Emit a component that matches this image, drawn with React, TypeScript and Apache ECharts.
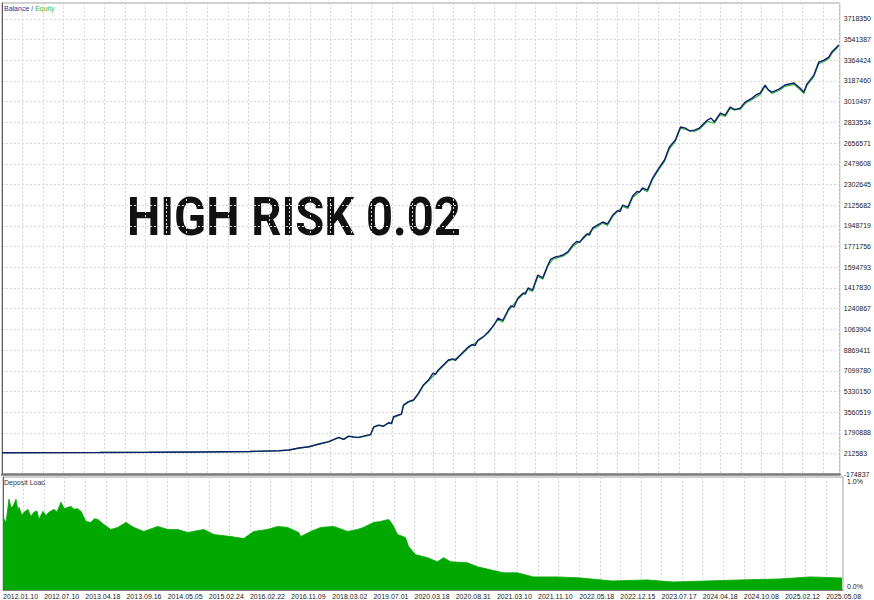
import React, { useEffect, useRef } from "react";
import * as echarts from "echarts";

const X_LABELS = [
  "2012.01.10", "2012.07.10", "2013.04.18", "2013.09.16", "2014.05.05", "2015.02.24",
  "2016.02.22", "2016.11.09", "2018.03.02", "2019.07.01", "2020.03.18", "2020.08.31",
  "2021.03.10", "2021.11.10", "2022.05.18", "2022.12.15", "2023.07.17", "2024.04.18",
  "2024.10.08", "2025.02.12", "2025.05.08",
];

const Y_LABELS = [
  "-174837", "212583", "1790888", "3560519", "5330150", "7099780", "8869411", "1063904",
  "1240867", "1417830", "1594793", "1771756", "1948719", "2125682", "2302645", "2479608",
  "2656571", "2833534", "3010497", "3187460", "3364424", "3541387", "3718350",
];

const Y_MIN = -174837;
const Y_STEP = 176963;
const Y_MAX = 3854258;
const X_MAX = 4082;
const X_LABEL_STEP = 200;

const BAL_DEALS = [
  0, 476, 718, 961, 1204, 1349, 1398, 1447, 1495, 1544,
  1592, 1641, 1665, 1689, 1713, 1738, 1762, 1786, 1796, 1811,
  1835, 1859, 1883, 1898, 1908, 1932, 1946, 1956, 1980, 2005,
  2029, 2053, 2078, 2100, 2112, 2126, 2175, 2195, 2210, 2223,
  2272, 2290, 2305, 2320, 2345, 2369, 2390, 2400, 2417, 2440,
  2466, 2480, 2495, 2514, 2540, 2550, 2563, 2585, 2611, 2635,
  2660, 2672, 2684, 2700, 2715, 2733, 2757, 2781, 2800, 2815,
  2830, 2850, 2862, 2878, 2927, 2950, 2976, 3000, 3012, 3024,
  3050, 3073, 3095, 3105, 3121, 3145, 3170, 3185, 3204, 3228,
  3252, 3265, 3281, 3306, 3330, 3350, 3374, 3398, 3437, 3455,
  3471, 3500, 3524, 3548, 3570, 3597, 3621, 3655, 3675, 3694,
  3718, 3735, 3752, 3786, 3815, 3859, 3888, 3907, 3922, 3956,
  3980, 4005, 4029, 4043, 4068, 4077,
];

const BALANCE = [
  10000, 12000, 13500, 16000, 20000, 27000, 33000, 50000, 61000, 84000,
  104000, 141000, 124000, 152000, 144000, 141000, 152000, 161000, 165000, 230000,
  246000, 238000, 266000, 260000, 317000, 332000, 340000, 417000, 446000, 460000,
  517000, 588000, 631000, 690000, 680000, 717000, 802000, 812000, 800000, 828000,
  913000, 935000, 925000, 973000, 1000000, 1042000, 1085000, 1110000, 1161000, 1140000,
  1230000, 1265000, 1255000, 1332000, 1375000, 1365000, 1418000, 1400000, 1529000, 1505000,
  1614000, 1660000, 1674000, 1685000, 1690000, 1700000, 1726000, 1785000, 1815000, 1808000,
  1845000, 1880000, 1870000, 1931000, 1982000, 1965000, 2042000, 2080000, 2072000, 2127000,
  2110000, 2204000, 2245000, 2235000, 2273000, 2255000, 2358000, 2400000, 2452000, 2512000,
  2623000, 2650000, 2683000, 2794000, 2785000, 2760000, 2768000, 2785000, 2854000, 2870000,
  2837000, 2913000, 2896000, 2965000, 2940000, 2956000, 3007000, 3041000, 3070000, 3084000,
  3153000, 3110000, 3093000, 3118000, 3153000, 3170000, 3127000, 3093000, 3161000, 3238000,
  3349000, 3366000, 3392000, 3435000, 3478000, 3495000,
];

const EQ_DEALS = [
  0, 476, 718, 961, 1204, 1349, 1398, 1447, 1495, 1544,
  1592, 1641, 1665, 1689, 1713, 1738, 1762, 1786, 1796, 1811,
  1835, 1859, 1883, 1898, 1908, 1932, 1946, 1956, 1980, 2005,
  2029, 2053, 2078, 2126, 2175, 2223, 2272, 2320, 2369, 2417, 2440,
  2466, 2514, 2563, 2585, 2611, 2635, 2660, 2684, 2733, 2757, 2781, 2830,
  2878, 2927, 2950, 2976, 3024, 3050, 3073, 3121, 3145, 3170, 3204, 3228, 3252,
  3281, 3306, 3330, 3374, 3398, 3437, 3471, 3500, 3524, 3548,
  3597, 3621, 3655, 3694, 3718, 3752, 3786, 3815, 3859, 3888,
  3907, 3922, 3956, 3980, 4005, 4029, 4043, 4068, 4077,
];

const EQUITY = [
  10000, 12000, 13400, 15900, 19800, 26500, 32500, 49000, 60000, 82000,
  102000, 138000, 122000, 149000, 142000, 139000, 150000, 158000, 163000, 226000,
  243000, 234000, 262000, 257000, 312000, 328000, 336000, 410000, 441000, 455000,
  511000, 582000, 625000, 710000, 795000, 820000, 905000, 966000, 1033000, 1150000, 1128000,
  1220000, 1322000, 1405000, 1388000, 1517000, 1492000, 1605000, 1664000, 1690000, 1717000, 1772000, 1834000,
  1920000, 1972000, 1952000, 2030000, 2115000, 2098000, 2192000, 2262000, 2240000, 2345000, 2440000, 2500000, 2608000,
  2672000, 2784000, 2773000, 2756000, 2775000, 2842000, 2826000, 2902000, 2884000, 2952000,
  2944000, 2995000, 3030000, 3072000, 3140000, 3080000, 3106000, 3142000, 3158000, 3115000,
  3080000, 3150000, 3225000, 3336000, 3355000, 3380000, 3422000, 3466000, 3495000,
];

const LOAD_DEALS = [
  0, 15, 29, 39, 49, 63, 73, 78, 92, 102,
  121, 136, 150, 165, 175, 194, 209, 223, 248, 262,
  282, 297, 316, 330, 345, 362, 379, 403, 427, 444,
  461, 490, 524, 558, 597, 636, 684, 752, 801, 849,
  898, 976, 1024, 1107, 1170, 1218, 1286, 1335, 1383, 1437,
  1447, 1495, 1544, 1607, 1675, 1723, 1752, 1801, 1835, 1874,
  1893, 1917, 1956, 1971, 2005, 2063, 2111, 2141, 2175, 2257,
  2306, 2369, 2432, 2500, 2577, 2694, 2806, 2961, 3131, 3257,
  3422, 3582, 3776, 3922, 4068, 4077,
];

const LOAD = [
  0.643, 0.598, 0.804, 0.73, 0.741, 0.804, 0.70, 0.732, 0.66, 0.688,
  0.714, 0.65, 0.688, 0.70, 0.625, 0.696, 0.66, 0.688, 0.714, 0.69,
  0.777, 0.72, 0.732, 0.74, 0.714, 0.72, 0.696, 0.607, 0.598, 0.63,
  0.625, 0.58, 0.536, 0.554, 0.598, 0.554, 0.518, 0.563, 0.536, 0.536,
  0.509, 0.536, 0.491, 0.473, 0.455, 0.518, 0.536, 0.563, 0.554, 0.509,
  0.473, 0.518, 0.554, 0.563, 0.518, 0.536, 0.554, 0.598, 0.607, 0.625,
  0.58, 0.491, 0.464, 0.384, 0.313, 0.286, 0.25, 0.286, 0.25, 0.241,
  0.205, 0.179, 0.152, 0.152, 0.116, 0.116, 0.107, 0.08, 0.089, 0.071,
  0.08, 0.089, 0.098, 0.116, 0.107, 0.107,
];

export default function App() {
  const ref = useRef<HTMLDivElement>(null);
  useEffect(() => {
    const chart = echarts.init(ref.current!, null, { renderer: "svg" });
    const FONT = "Liberation Sans";
    const gridLine = { show: true, lineStyle: { color: "#d6d6d6", width: 1, type: [2, 2] } };
    const xFmt = (v: number) => {
      const i = Math.round(v / X_LABEL_STEP);
      return Math.abs(v - i * X_LABEL_STEP) < 0.5 && i < X_LABELS.length ? X_LABELS[i] : "";
    };
    const yFmt = (v: number) => {
      const i = Math.round((v - Y_MIN) / Y_STEP);
      return Math.abs(v - (Y_MIN + i * Y_STEP)) < 2 && i >= 0 && i < Y_LABELS.length ? Y_LABELS[i] : "";
    };
    const loadFmt = (v: number) => (v >= 1 ? "{t|1.0%}" : "{b|0.0%}");
    chart.setOption({
      animation: false,
      backgroundColor: "#ffffff",
      grid: [
        { left: 2, right: 31, top: 3, height: 471.3, show: true, borderColor: "#a0a0a0", borderWidth: 1 },
        { left: 2, right: 31, top: 477, height: 113, show: true, borderColor: "#a0a0a0", borderWidth: 1 },
      ],
      xAxis: [
        {
          gridIndex: 0, type: "value", min: 0, max: X_MAX, interval: 100,
          axisLine: { show: true, onZero: false, lineStyle: { color: "#7a7a7a", width: 2.5 } },
          axisTick: { show: false }, axisLabel: { show: false }, splitLine: gridLine,
        },
        {
          gridIndex: 1, type: "value", min: 0, max: X_MAX, interval: 100,
          axisLine: { show: true, onZero: false, lineStyle: { color: "#808080", width: 1 } },
          axisTick: { show: false },
          axisLabel: { show: true, fontSize: 7, fontFamily: FONT, color: "#222", align: "left", margin: 3, formatter: xFmt },
          splitLine: gridLine,
        },
      ],
      yAxis: [
        {
          gridIndex: 0, type: "value", position: "right", min: Y_MIN, max: Y_MAX, interval: Y_STEP,
          axisLine: { show: true, lineStyle: { color: "#606060", width: 1 } },
          axisTick: { show: false },
          axisLabel: { fontSize: 7, fontFamily: FONT, color: "#222", margin: 4, formatter: yFmt },
          splitLine: gridLine,
        },
        {
          gridIndex: 1, type: "value", position: "right", min: 0, max: 1, interval: 1,
          axisLine: { show: true, lineStyle: { color: "#606060", width: 1 } },
          axisTick: { show: false },
          axisLabel: {
            fontSize: 7, fontFamily: FONT, color: "#222", margin: 4, formatter: loadFmt,
            rich: {
              t: { fontSize: 7, fontFamily: FONT, color: "#222", padding: [8, 0, 0, 0] },
              b: { fontSize: 7, fontFamily: FONT, color: "#222", padding: [0, 0, 7, 0] },
            },
          },
          splitLine: { show: false },
        },
      ],
      series: [
        {
          type: "line", xAxisIndex: 0, yAxisIndex: 0, name: "Equity",
          data: EQ_DEALS.map((d, i) => [d, EQUITY[i]]),
          showSymbol: false, lineStyle: { color: "#2fae3c", width: 1.2 }, z: 3,
        },
        {
          type: "line", xAxisIndex: 0, yAxisIndex: 0, name: "Balance",
          data: BAL_DEALS.map((d, i) => [d, BALANCE[i]]),
          showSymbol: false, lineStyle: { color: "#0b1f6b", width: 1.4 }, z: 4,
        },
        {
          type: "line", xAxisIndex: 1, yAxisIndex: 1, name: "Deposit Load",
          data: LOAD_DEALS.map((d, i) => [d, LOAD[i]]),
          showSymbol: false, lineStyle: { color: "#00a800", width: 0.8 },
          areaStyle: { color: "#00a800", opacity: 1 }, z: 3,
        },
      ],
      graphic: [
        {
          type: "text", x: 4, y: 8,
          style: {
            text: "{a|Balance / }{b|Equity}", textVerticalAlign: "middle",
            rich: {
              a: { fill: "#2c2ca0", fontSize: 7, fontFamily: FONT },
              b: { fill: "#3cb43c", fontSize: 7, fontFamily: FONT },
            },
          },
        },
        {
          type: "text", x: 4, y: 482,
          style: { text: "Deposit Load", fill: "#333", fontSize: 7, fontFamily: FONT, textVerticalAlign: "middle" },
        },
        {
          type: "text", x: 127, y: 217, scaleX: 0.89,
          style: {
            text: "HIGH RISK 0.02", fill: "#111", fontSize: 53, fontWeight: "bold",
            fontFamily: "Roboto", textVerticalAlign: "middle",
          },
        },
      ],
    });
    return () => chart.dispose();
  }, []);
  return <div ref={ref} style={{ position: "fixed", left: 0, top: 0, width: 874, height: 600 }} />;
}
